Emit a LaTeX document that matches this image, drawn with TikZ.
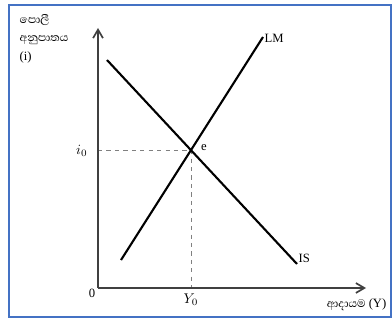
\documentclass[tikz,border=0pt]{standalone}
\usepackage{fontspec}
\setmainfont{Liberation Serif}
\newfontfamily\sinhalafont[Script=Sinhala]{Abhaya Libre}
\usepackage{xcolor}
\usepackage{tikz}
\usetikzlibrary{arrows.meta}
\definecolor{framecol}{HTML}{4472C4}
\definecolor{axiscol}{HTML}{404040}
\definecolor{guidecol}{HTML}{808080}

\begin{document}
\begin{tikzpicture}[
  x=0.025cm, y=-0.025cm,
  axis/.style={-{Straight Barb[length=6pt,width=7pt]}, color=axiscol, line width=1.2pt},
  curve/.style={line width=1.5pt, color=black},
  guide/.style={dashed, color=guidecol, line width=0.6pt},
  label/.style={font=\small, inner sep=1pt},
  sinlabel/.style={font=\sinhalafont, inner sep=1pt},
]
  \useasboundingbox (0,0) rectangle (392,320);
  \draw[framecol, line width=1.4pt] (9,5) rectangle (391,317);

  \coordinate (O)    at (98,288);
  \coordinate (ytip) at (98,28);
  \coordinate (xtip) at (366,288);
  \coordinate (lmA)  at (121,260);
  \coordinate (lmB)  at (263,37);
  \coordinate (isA)  at (107,60);
  \coordinate (isB)  at (297,264);
  \coordinate (e)    at (intersection of lmA--lmB and isA--isB);
  \coordinate (ei)   at (O |- e);
  \coordinate (ey)   at (e |- O);

  \draw[guide] (ei) -- (e);
  \draw[guide] (e) -- (ey);
  \draw[axis] (O) -- (ytip);
  \draw[axis] (O) -- (xtip);
  \draw[curve] (lmA) -- (lmB);
  \draw[curve] (isA) -- (isB);

  \node[sinlabel, anchor=north west, align=left] (ylab) at (18,13)
    {පොලී\\[1pt]අනුපාතය\\[1pt]{\rmfamily\small (i)}};
  \node[label, anchor=east]  (zero) at (97,293) {0};
  \node[label, anchor=east, font=\normalsize]  (ilab) at (89,151) {$i_0$};
  \node[label, anchor=north, font=\normalsize] (ylab0) at (ey) [yshift=-3pt] {$Y_0$};
  \node[label, anchor=west]  (elab) at (e) [xshift=6pt, yshift=2pt] {e};
  \node[label, anchor=west]  (lm) at (lmB) [yshift=-1pt] {LM};
  \node[label, anchor=west]  (is) at (isB) [yshift=4pt] {IS};
  \node[label, anchor=east]  (xlab) at (388,305) {{\sinhalafont\normalsize ආදායම} (Y)};
\end{tikzpicture}
\end{document}
